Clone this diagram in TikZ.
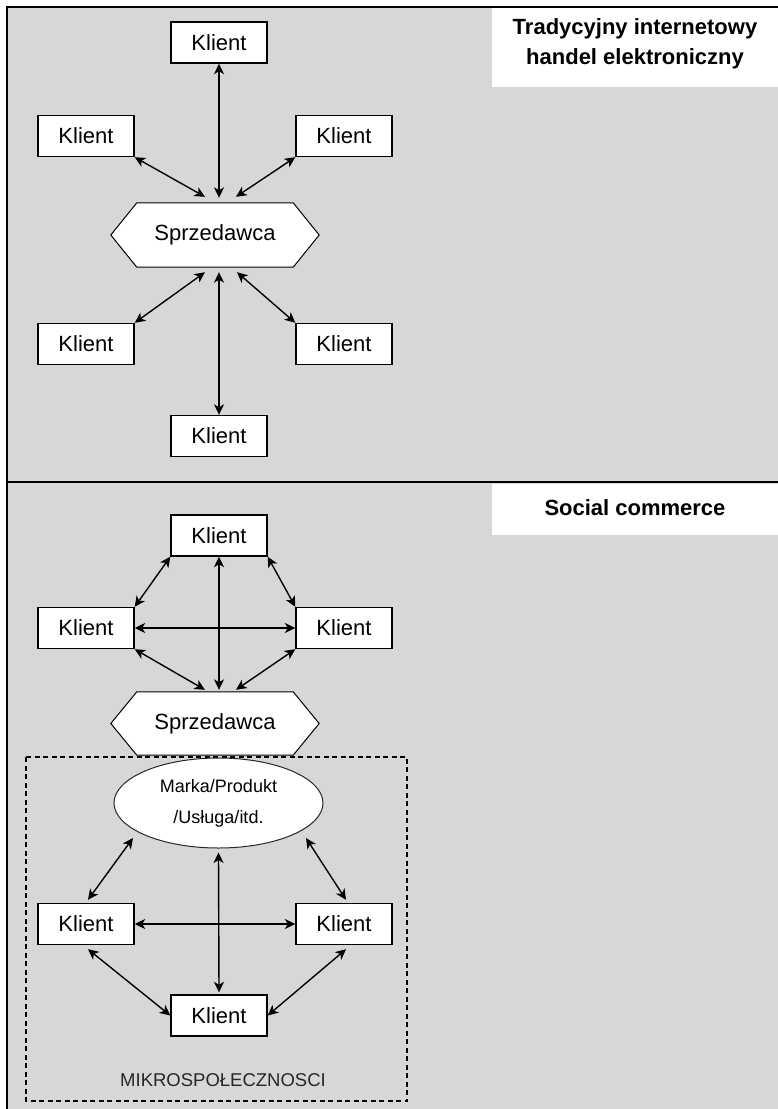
\documentclass[tikz,border=0pt]{standalone}
\usepackage{fontspec}
\setmainfont{Liberation Sans}
\usetikzlibrary{arrows.meta,shapes.geometric,calc,backgrounds}
\definecolor{bggray}{HTML}{D7D7D7}
\begin{document}
\begin{tikzpicture}[x=1pt,y=-1pt,
  kbox/.style={draw=black,line width=1.4pt,fill=white,minimum width=96pt,minimum height=41pt,inner sep=0pt,font=\fontsize{22}{26}\selectfont},
  hexcore/.style={minimum width=156pt,minimum height=64pt,inner sep=0pt,font=\fontsize{22}{26}\selectfont},
  hexshape/.style={draw=black,line width=1pt,fill=white},
  link/.style={{Stealth[length=10.5pt,width=10pt,inset=3pt]}-{Stealth[length=10.5pt,width=10pt,inset=3pt]},line width=1.4pt},
  titlebox/.style={fill=white,draw=none},
  titletext/.style={font=\bfseries\fontsize{22}{30}\selectfont,align=center},
]
\useasboundingbox (0,0) rectangle (778,1109);
\begin{scope}[on background layer]
  \fill[white] (0,0) rectangle (778,1109);
  \fill[bggray] (7,7) rectangle (778,1109);
  \draw[line width=1.5pt] (7,1109) -- (7,7) -- (778,7);
  \draw[line width=1.5pt] (7,482) -- (778,482);
  \fill[white] (492,8) rectangle (778,87);
  \fill[white] (492,484) rectangle (778,535);
\end{scope}

\node[titletext] (t1) at (635,44) {Tradycyjny internetowy\\handel elektroniczny};
\node[titletext] (t2) at (635,508) {Social commerce};

% top section
\node[kbox] (kt1) at (219,42.5) {Klient};
\node[kbox] (kt2) at (86,136) {Klient};
\node[kbox] (kt3) at (344,136) {Klient};
\node[hexcore] (st) at (215,235) {Sprzedawca};
\node[kbox] (kt4) at (86,344) {Klient};
\node[kbox] (kt5) at (344,344) {Klient};
\node[kbox] (kt6) at (219,436) {Klient};

\begin{scope}[on background layer]
  \draw[hexshape] (st.north west) -- (st.north east) -- ($(st.east)+(26,0)$) -- (st.south east) -- (st.south west) -- ($(st.west)+(-26,0)$) -- cycle;
\end{scope}

\draw[link] (kt1.south) -- ($(kt1.south |- st.north)+(0,-5)$);
\draw[link] (kt2.south east) -- ($(kt1.south |- st.north)+(-14,-6)$);
\draw[link] (kt3.south west) -- ($(kt1.south |- st.north)+(17,-6)$);
\draw[link] ($(kt6.north |- st.south)+(-14,5)$) -- (kt4.north east);
\draw[link] ($(kt6.north |- st.south)+(0,5)$) -- (kt6.north);
\draw[link] ($(kt6.north |- st.south)+(18,5)$) -- (kt5.north west);

% lower section
\node[kbox] (kb1) at (219,535.5) {Klient};
\node[kbox] (kb2) at (86,628) {Klient};
\node[kbox] (kb3) at (344,628) {Klient};
\node[hexcore,minimum height=63pt] (sb) at (215,723.5) {Sprzedawca};

\begin{scope}[on background layer]
  \draw[hexshape] (sb.north west) -- (sb.north east) -- ($(sb.east)+(26,0)$) -- (sb.south east) -- (sb.south west) -- ($(sb.west)+(-26,0)$) -- cycle;
\end{scope}

\draw[link] (kb1.south west) -- (kb2.north east);
\draw[link] (kb1.south east) -- (kb3.north west);
\draw[link] (kb2.east) -- (kb3.west);
\draw[link] (kb1.south) -- ($(kb1.south |- sb.north)+(0,-2)$);
\draw[link] (kb2.south east) -- ($(kb1.south |- sb.north)+(-14,-2)$);
\draw[link] (kb3.south west) -- ($(kb1.south |- sb.north)+(17,-2)$);

\draw[line width=1.1pt,dash pattern=on 5pt off 3.5pt] (26,757) rectangle (407,1101);

\node[ellipse,draw=black!85,line width=1pt,fill=white,minimum width=209pt,minimum height=90pt,inner sep=0pt,align=center,font=\fontsize{18}{31}\selectfont] (el) at (218.5,803) {Marka/Produkt\\/Usługa/itd.};

\node[kbox] (kc1) at (86,924) {Klient};
\node[kbox] (kc2) at (344,924) {Klient};
\node[kbox] (kc3) at (219,1015.5) {Klient};

\draw[link] ($(el.center)+(-85.5,35)$) -- ($(kc1.north)+(2,-3)$);
\draw[link] ($(el.center)+(87.5,35)$) -- ($(kc2.north)+(2,-3)$);
\draw[link] (kc1.east) -- (kc2.west);
\draw[link] ($(el.south)+(0,4)$) -- ($(kc3.north)+(0,-2)$);
\draw[link] ($(kc1.south)+(2,4)$) -- (kc3.west);
\draw[link] ($(kc2.south)+(2,4)$) -- (kc3.east);

\node[font=\fontsize{18.5}{22}\selectfont,text=black!85] (mk) at (223,1080) {MIKROSPOŁECZNOSCI};
\end{tikzpicture}
\end{document}
